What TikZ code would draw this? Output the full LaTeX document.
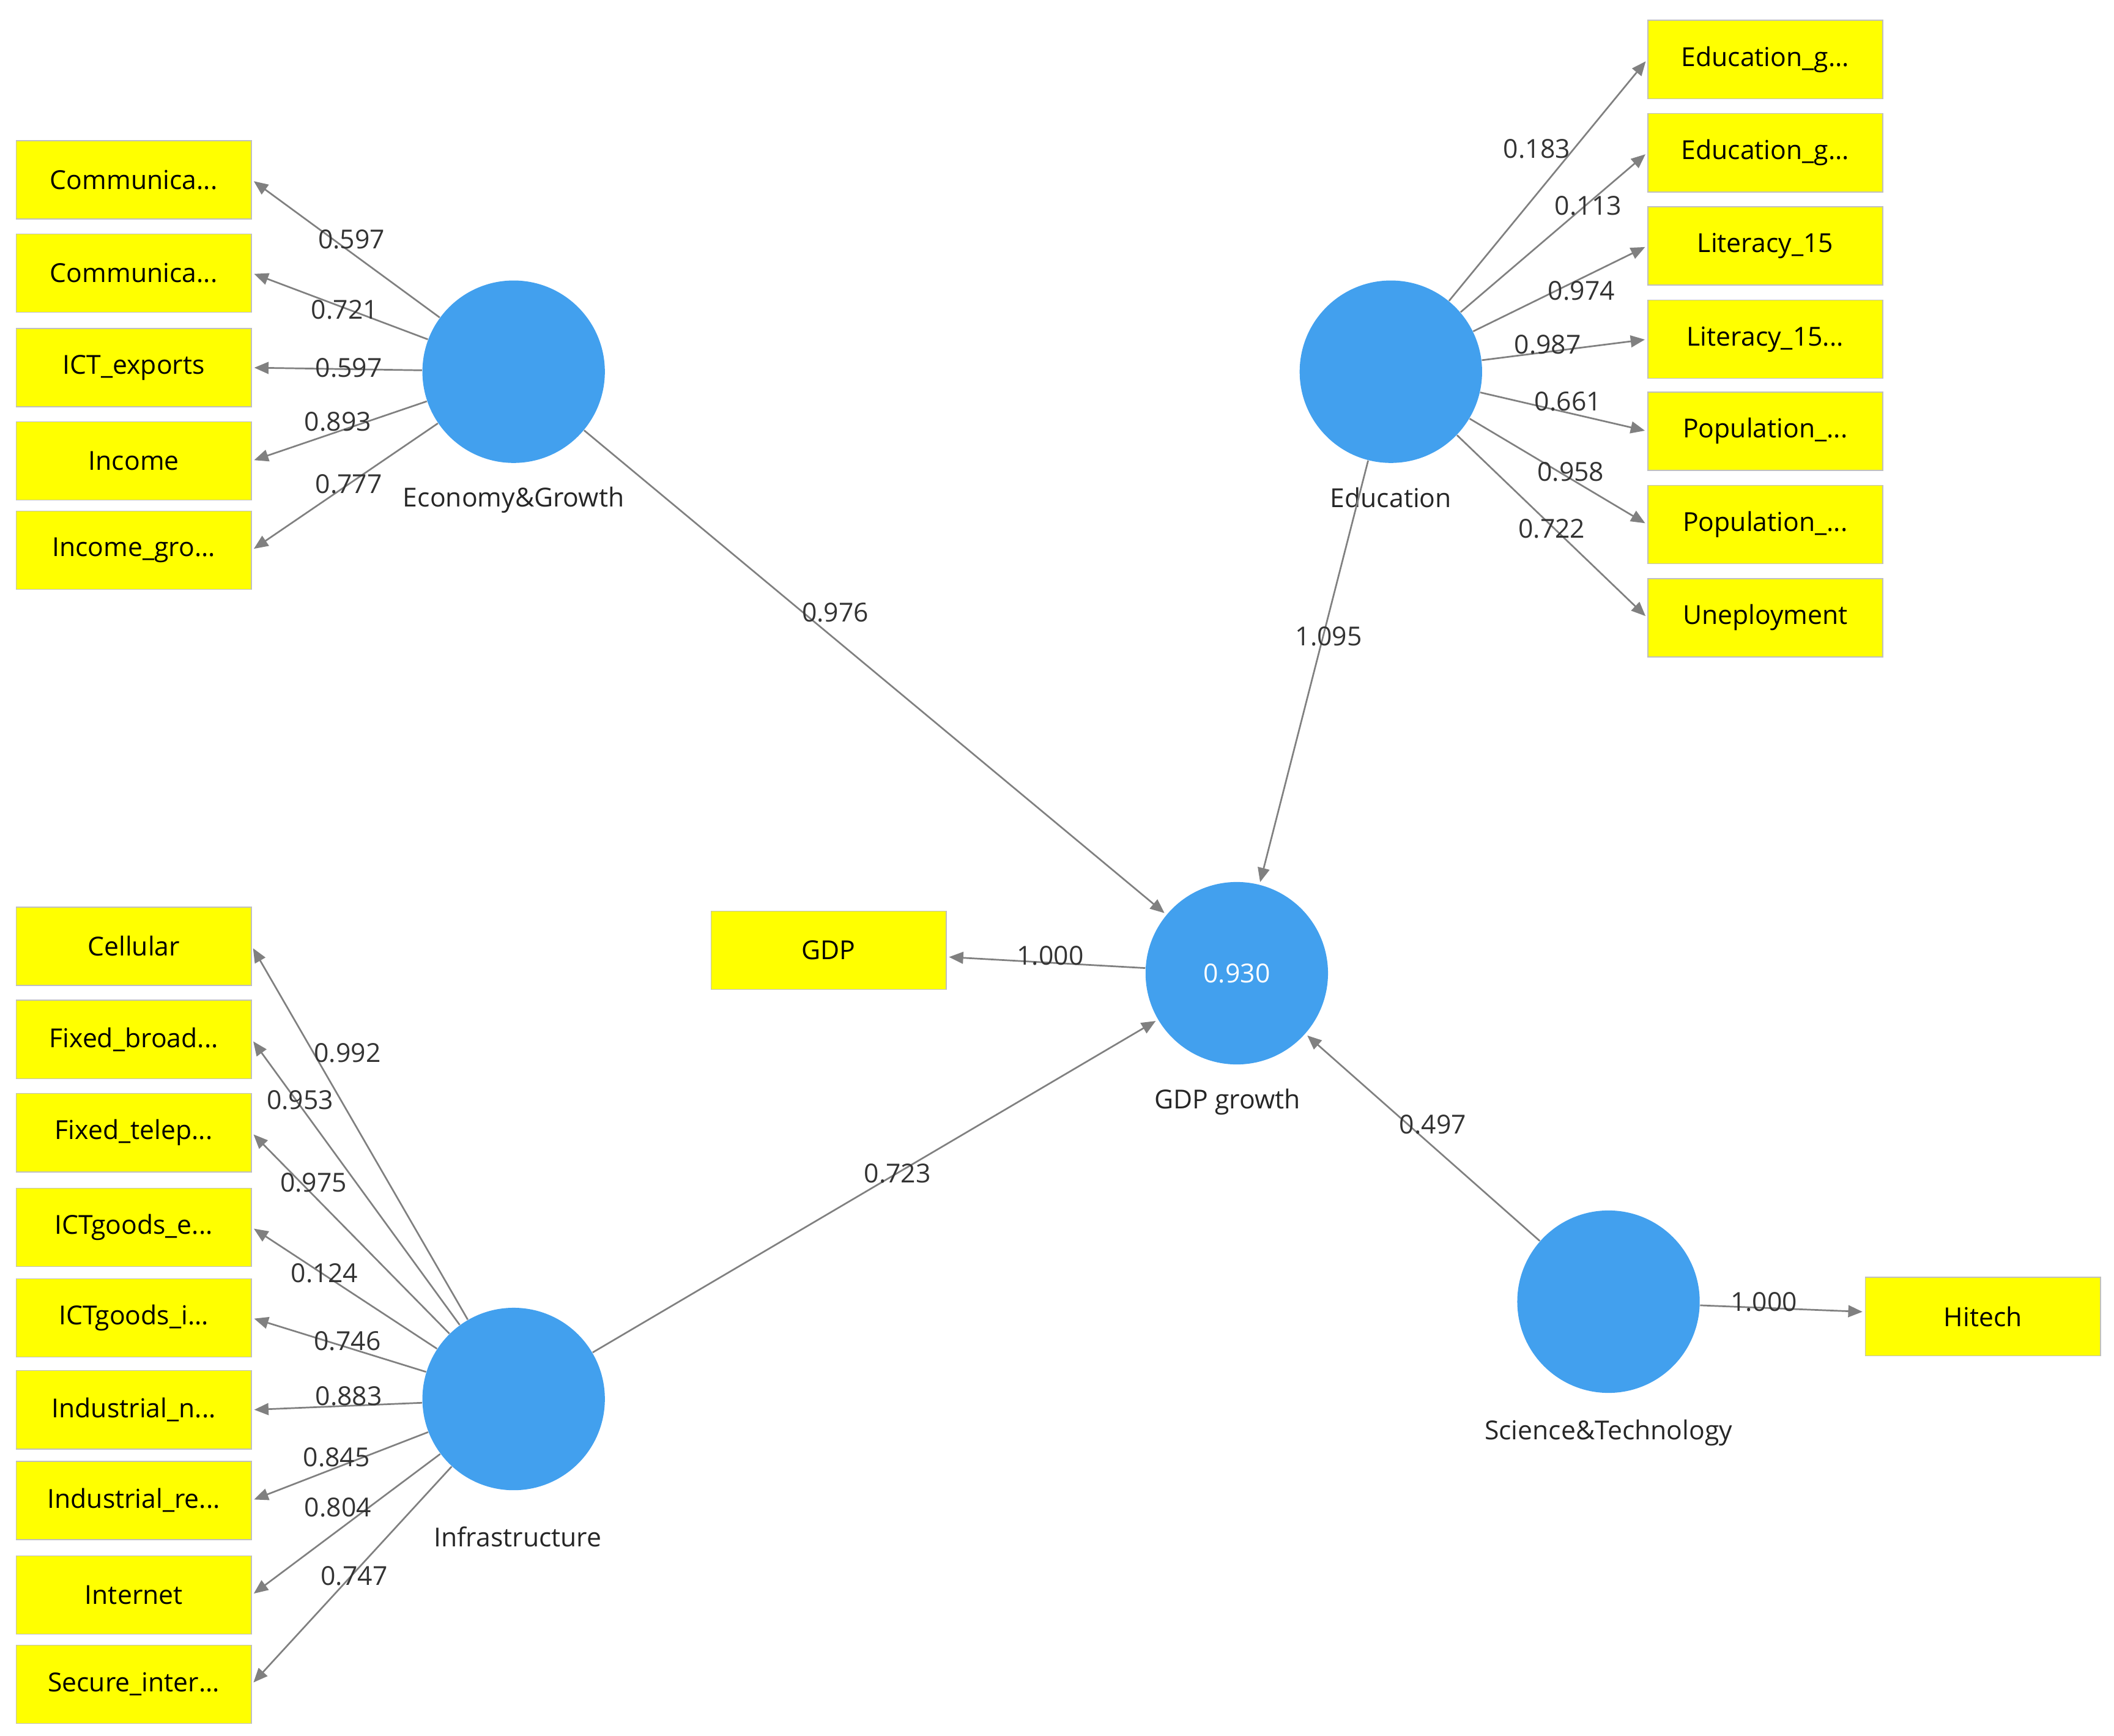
\documentclass[tikz,border=0pt]{standalone}
\usepackage{fontspec}
\setmainfont{Open Sans}
\usetikzlibrary{arrows.meta}
\definecolor{boxy}{RGB}{255,255,0}
\definecolor{lv}{RGB}{66,160,238}
\definecolor{ar}{RGB}{128,128,128}
\newcommand\myel{\mbox{.\kern0pt.\kern0pt.}}
\begin{document}
\begin{tikzpicture}[x=0.02cm,y=-0.02cm,
  box/.style={draw=black!25,fill=boxy,minimum width=3.48cm,minimum height=1.16cm,inner sep=0pt,font=\fontsize{11}{13}\selectfont},
  lv/.style={circle,fill=lv,minimum size=2.7cm,inner sep=0pt,font=\fontsize{11}{13}\selectfont\color{white}},
  ar/.style={draw=ar,line width=0.7pt,-{Triangle[length=6pt,width=5pt]},shorten >=1pt},
  num/.style={font=\fontsize{11}{13}\selectfont,text=black!80},
  lvcap/.style={font=\fontsize{11}{13}\selectfont,text=black!85}]
\useasboundingbox (0,0) rectangle (1564,1284);
\node[lv] (eco) at (380,275) {};
\node[lv] (edu) at (1029,275) {};
\node[lv] (gg) at (915,720) {0.930};
\node[lv] (inf) at (380,1035) {};
\node[lv] (sci) at (1190,963) {};
\node[lvcap] at (380,370) {Economy\&Growth};
\node[lvcap] at (1029,368) {Education};
\node[lvcap] at (908,815) {GDP growth};
\node[lvcap] at (383,1137) {Infrastructure};
\node[lvcap] at (1190,1060) {Science\&Technology};
% economy indicators
\foreach \n/\y/\t in {e1/133/Communica\myel,e2/202/Communica\myel,e3/272/ICT\_exports,e4/341/Income,e5/407/Income\_gro\myel}
  {\node[box] (\n) at (99,\y) {\t}; \draw[ar] (eco) -- (\n.east);}
% education indicators
\foreach \n/\y/\t in {d1/44/Education\_g\myel,d2/113/Education\_g\myel,d3/182/Literacy\_15,d4/251/Literacy\_15\myel,d5/319/Population\_\myel,d6/388/Population\_\myel,d7/457/Uneployment}
  {\node[box] (\n) at (1306,\y) {\t}; \draw[ar] (edu) -- (\n.west);}
% infrastructure indicators
\foreach \n/\y/\t in {i1/700/Cellular,i2/769/Fixed\_broad\myel,i3/838/Fixed\_telep\myel,i4/908/ICTgoods\_e\myel,i5/975/ICTgoods\_i\myel,i6/1043/Industrial\_n\myel,i7/1110/Industrial\_re\myel,i8/1180/Internet,i9/1246/Secure\_inter\myel}
  {\node[box] (\n) at (99,\y) {\t}; \draw[ar] (inf) -- (\n.east);}
\node[box] (gdp) at (613,703) {GDP};
\node[box] (hi) at (1467,974) {Hitech};
\draw[ar] (gg) -- (gdp);
\draw[ar] (sci) -- (hi);
\draw[ar] (eco) -- (gg);
\draw[ar] (edu) -- (gg);
\draw[ar] (inf) -- (gg);
\draw[ar] (sci) -- (gg);
% numbers
\foreach \x/\y/\t in {260/177/0.597,255/229/0.721,258/272/0.597,250/312/0.893,258/358/0.777,
 1137/110/0.183,1175/152/0.113,1170/215/0.974,1145/255/0.987,1160/297/0.661,1162/349/0.958,1148/391/0.722,
 257/779/0.992,222/814/0.953,232/875/0.975,240/942/0.124,257/992/0.746,258/1033/0.883,249/1078/0.845,250/1115/0.804,262/1166/0.747,
 618/453/0.976,983/471/1.095,777/707/1.000,664/868/0.723,1060/832/0.497,1305/963/1.000}
  \node[num] at (\x,\y) {\t};
\end{tikzpicture}
\end{document}
